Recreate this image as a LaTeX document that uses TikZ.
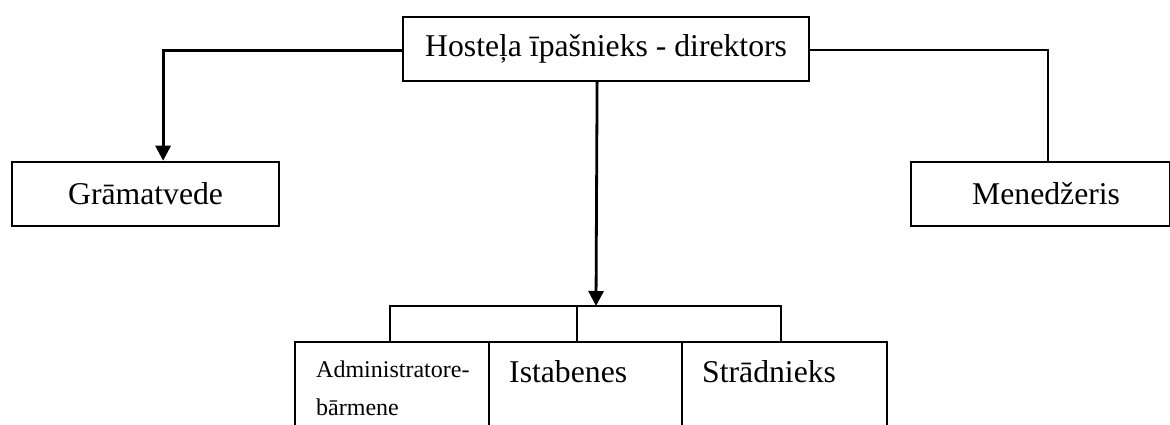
\documentclass[tikz,border=0pt]{standalone}
\usepackage{fontspec}
\setmainfont{Liberation Serif}
\usetikzlibrary{arrows.meta,positioning}
\begin{document}
\begin{tikzpicture}[x=1pt,y=-1pt,
  box/.style={draw=black,line width=2.2pt,inner sep=0pt,fill=white},
  big/.style={font=\fontsize{31.7}{38}\selectfont},
  small/.style={font=\fontsize{24}{38}\selectfont},
  conn/.style={draw=black,line width=2.2pt},
  arr/.style={draw=black,line width=2.8pt,-{Triangle[width=15pt,length=15pt]}}]
\clip (0,0) rectangle (1170,424);
\fill[white] (0,0) rectangle (1170,424);
% top box
\node[box,big,anchor=north west,minimum width=406pt,minimum height=64pt] (top) at (402,16) {Hosteļa īpašnieks - direktors};
% second level
\node[box,big,anchor=north west,minimum width=267pt,minimum height=64.3pt] (gram) at (11,160.7) {Grāmatvede};
\node[box,big,anchor=north west,minimum width=259pt,minimum height=64.3pt] (mgr) at (910,160.7) {\hspace*{11pt}Menedžeris};
% bottom boxes
\node[box,anchor=north west,minimum width=194pt,minimum height=110pt] (adm) at (294,341) {};
\node[box,anchor=north west,minimum width=193pt,minimum height=110pt] (ist) at (488,341) {};
\node[box,anchor=north west,minimum width=204.7pt,minimum height=110pt] (str) at (681,341) {};
\node[small,anchor=base west,inner sep=0pt,align=left] (admt) at ([xshift=22pt,yshift=-74pt]adm.north west) {Administratore-\\bārmene};
\node[big,anchor=base west,inner sep=0pt] (istt) at ([xshift=21pt,yshift=-41pt]ist.north west) {Istabenes};
\node[big,anchor=base west,inner sep=0pt] (strt) at ([xshift=21pt,yshift=-41pt]str.north west) {Strādnieks};
% connectors
\coordinate (brk) at (596,306);
\coordinate (a1) at ([xshift=-2pt]adm.north);
\coordinate (a2) at ([xshift=-8.8pt]ist.north);
\coordinate (a3) at ([xshift=-3.8pt]str.north);
\draw[arr] ([yshift=-1pt]top.west) -| ([xshift=17.5pt]gram.north);
\draw[conn] ([yshift=-1pt]top.east) -| ([xshift=7.5pt]mgr.north);
\draw[arr] ([xshift=-9pt]top.south) -- (brk);
\draw[conn] (a1) |- (brk) -| (a3);
\draw[conn] (a2) -- (a2 |- brk);
\end{tikzpicture}
\end{document}
